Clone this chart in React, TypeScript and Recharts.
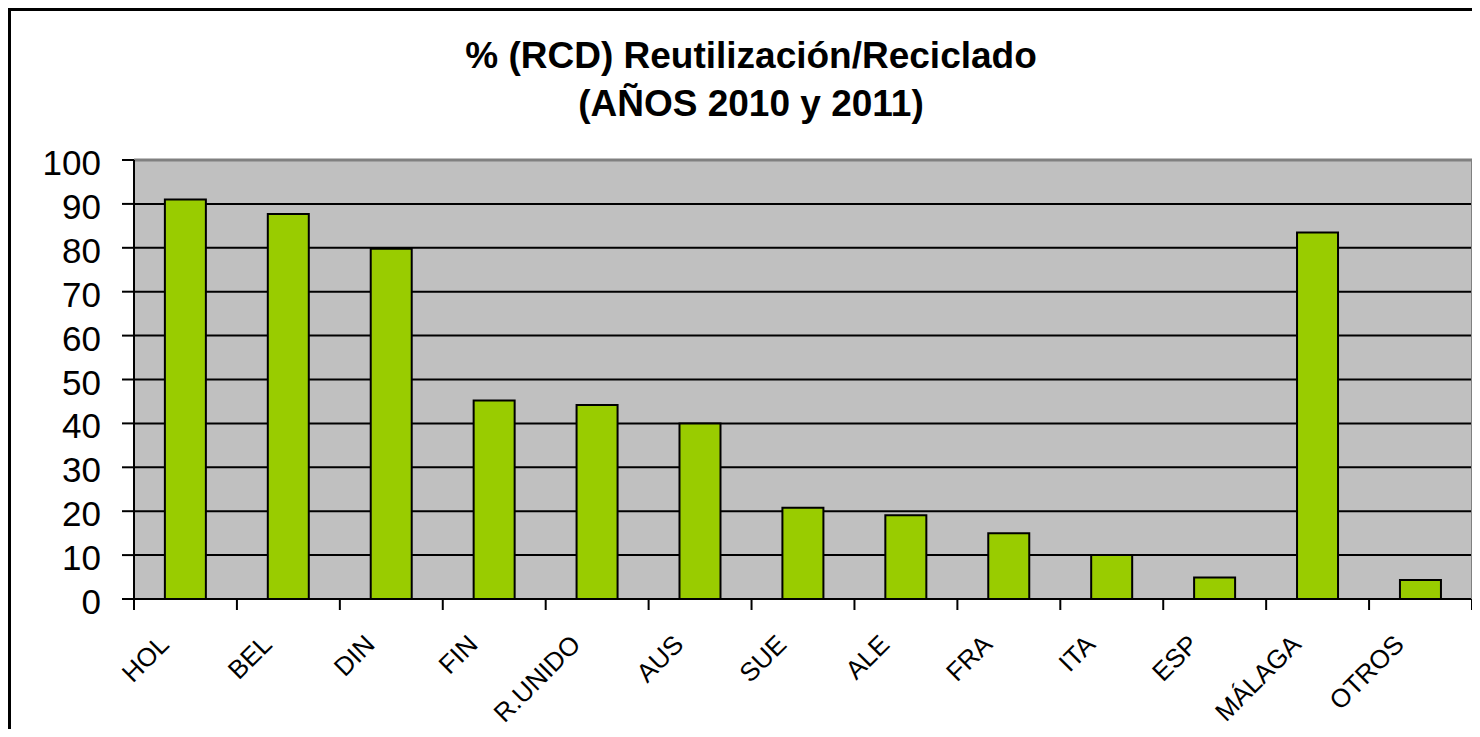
import React from "react";
import {
  BarChart,
  Bar,
  XAxis,
  YAxis,
  CartesianGrid,
  ReferenceLine,
} from "recharts";

const categories = [
  "HOL",
  "BEL",
  "DIN",
  "FIN",
  "R.UNIDO",
  "AUS",
  "SUE",
  "ALE",
  "FRA",
  "ITA",
  "ESP",
  "MÁLAGA",
  "OTROS",
];
const values = [91, 87.7, 79.8, 45.2, 44.2, 40, 20.8, 19.1, 15, 10, 4.9, 83.5, 4.3];
const yTicks = [0, 10, 20, 30, 40, 50, 60, 70, 80, 90, 100];
const boundaryTicks = [0, 1, 2, 3, 4, 5, 6, 7, 8, 9, 10, 11, 12, 13];
const titleLines = ["% (RCD) Reutilización/Reciclado", "(AÑOS 2010 y 2011)"];

const data = categories.map((name, i) => ({ name, value: values[i], idx: i + 0.5 }));

const FONT = '"Liberation Sans", Arial, Helvetica, sans-serif';

const XTick = (props: any) => {
  const { x, y, payload } = props;
  return (
    <text
      transform={`translate(${x - 15},${y + 46}) rotate(-45)`}
      textAnchor="end"
      fontSize={26}
      fontFamily={FONT}
      fill="#000"
    >
      {payload.value}
    </text>
  );
};

const EmptyTick = () => <g />;

const YTick = (props: any) => {
  const { x, y, payload } = props;
  return (
    <text x={x} y={y + 15} textAnchor="end" fontSize={35} fontFamily={FONT} fill="#000">
      {payload.value}
    </text>
  );
};

export default function App() {
  return (
    <div
      style={{
        position: "relative",
        width: 1469,
        height: 718,
        borderTop: "3px solid #000",
        borderLeft: "3px solid #000",
        background: "#fff",
        fontFamily: FONT,
      }}
    >
      <div
        style={{
          position: "absolute",
          left: 0,
          top: 21,
          width: 1480,
          textAlign: "center",
          fontWeight: "bold",
          fontSize: 37,
          lineHeight: "48px",
          color: "#000",
          fontFamily: FONT,
          zIndex: 2,
          pointerEvents: "none",
        }}
      >
        <div>{titleLines[0]}</div>
        <div>{titleLines[1]}</div>
      </div>
      <BarChart
        width={1469}
        height={718}
        data={data}
        margin={{ top: 149, right: 7, bottom: 0, left: 0 }}
        barCategoryGap="30%"
      >
        <CartesianGrid
          fill="#C0C0C0"
          vertical={false}
          stroke="#000"
          strokeWidth={2}
          yAxisId="left"
          xAxisId="cat"
        />
        <XAxis
          xAxisId="bounds"
          type="number"
          dataKey="idx"
          domain={[0, 13]}
          ticks={boundaryTicks}
          interval={0}
          height={1}
          tick={<EmptyTick />}
          tickSize={11}
          tickLine={{ stroke: "#000", strokeWidth: 2 }}
          axisLine={{ stroke: "#000", strokeWidth: 2 }}
          allowDataOverflow
        />
        <XAxis
          xAxisId="cat"
          dataKey="name"
          type="category"
          height={129}
          interval={0}
          tickLine={false}
          tickSize={0}
          tickMargin={0}
          axisLine={false}
          tick={<XTick />}
        />
        <YAxis
          yAxisId="left"
          domain={[0, 100]}
          ticks={yTicks}
          interval={0}
          width={123}
          tickSize={12}
          tickMargin={21}
          tickLine={{ stroke: "#000", strokeWidth: 2 }}
          axisLine={{ stroke: "#000", strokeWidth: 2 }}
          tick={<YTick />}
        />
        <YAxis
          yAxisId="right"
          orientation="right"
          domain={[0, 100]}
          width={1}
          tick={false}
          tickLine={false}
          axisLine={{ stroke: "#808080", strokeWidth: 2 }}
        />
        <ReferenceLine
          y={100}
          yAxisId="left"
          xAxisId="cat"
          stroke="#808080"
          strokeWidth={3}
        />
        <Bar
          dataKey="value"
          xAxisId="cat"
          yAxisId="left"
          fill="#99CC00"
          stroke="#000"
          strokeWidth={2}
          isAnimationActive={false}
        />
      </BarChart>
    </div>
  );
}
